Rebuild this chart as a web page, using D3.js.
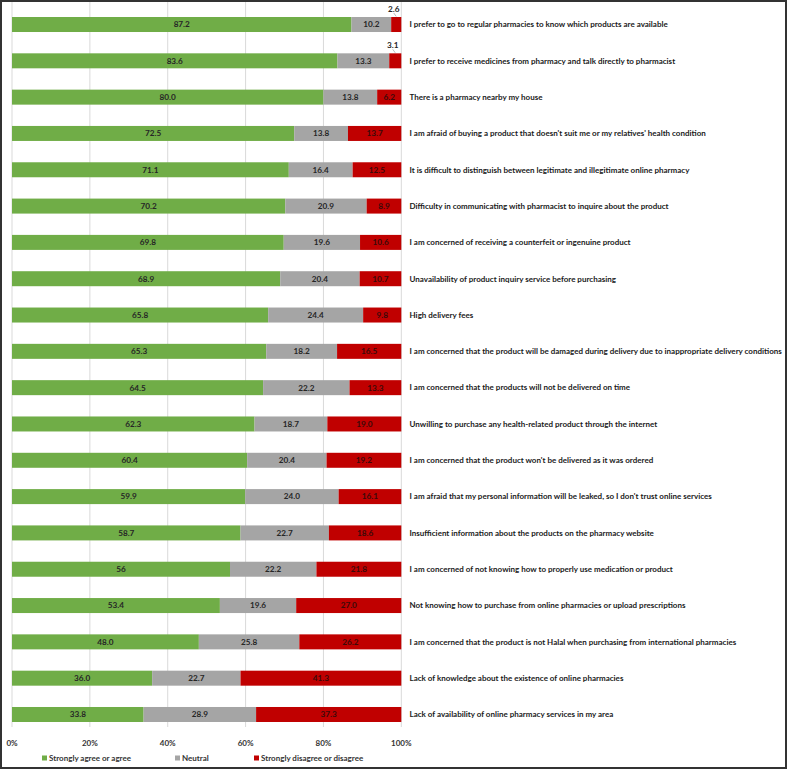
<!DOCTYPE html>
<html>
<head>
<meta charset="utf-8">
<script src="https://cdn.jsdelivr.net/npm/d3@7/dist/d3.min.js"></script>
<style>
  html, body { margin: 0; padding: 0; background: #fff; }
  svg { display: block; }
  text { font-family: Lato, "Open Sans", sans-serif; }
</style>
</head>
<body>
<svg id="chart" width="787" height="769"></svg>
<script>
const categories = [
  "I prefer to go to regular pharmacies to know which products are available",
  "I prefer to receive medicines from pharmacy and talk directly to pharmacist",
  "There is a pharmacy nearby my house",
  "I am afraid of buying a product that doesn't suit me or my relatives' health condition",
  "It is difficult to distinguish between legitimate and illegitimate online pharmacy",
  "Difficulty in communicating with pharmacist to inquire about the product",
  "I am concerned of receiving a counterfeit or ingenuine product",
  "Unavailability of product inquiry service before purchasing",
  "High delivery fees",
  "I am concerned that the product will be damaged during delivery due to inappropriate delivery conditions",
  "I am concerned that the products will not be delivered on time",
  "Unwilling to purchase any health-related product through the internet",
  "I am concerned that the product won't be delivered as it was ordered",
  "I am afraid that my personal information will be leaked, so I don't trust online services",
  "Insufficient information about the products on the pharmacy website",
  "I am concerned of not knowing how to properly use medication or product",
  "Not knowing how to purchase from online pharmacies or upload prescriptions",
  "I am concerned that the product is not Halal when purchasing from international pharmacies",
  "Lack of knowledge about the existence of online pharmacies",
  "Lack of availability of online pharmacy services in my area"
];
const agree    = ["87.2","83.6","80.0","72.5","71.1","70.2","69.8","68.9","65.8","65.3","64.5","62.3","60.4","59.9","58.7","56","53.4","48.0","36.0","33.8"];
const neutral  = ["10.2","13.3","13.8","13.8","16.4","20.9","19.6","20.4","24.4","18.2","22.2","18.7","20.4","24.0","22.7","22.2","19.6","25.8","22.7","28.9"];
const disagree = ["2.6","3.1","6.2","13.7","12.5","8.9","10.6","10.7","9.8","16.5","13.3","19.0","19.2","16.1","18.6","21.8","27.0","26.2","41.3","37.3"];
const seriesNames = ["Strongly agree or agree", "Neutral", "Strongly disagree or disagree"];
const seriesColors = ["#70AD47", "#A5A5A5", "#C00000"];
const xTicks = [0, 20, 40, 60, 80, 100];
const tickLabels = ["0%", "20%", "40%", "60%", "80%", "100%"];

const svg = d3.select("#chart");
const W = 787, H = 769;

// frame
svg.append("rect").attr("x", 1).attr("y", 1).attr("width", W - 2).attr("height", H - 2)
  .attr("fill", "#fff").attr("stroke", "#333").attr("stroke-width", 2);

const x = d3.scaleLinear().domain([0, 100]).range([12, 401.3]);
const y = d3.scaleBand().domain(categories).range([6.35, 732.65])
  .paddingInner(0.587).paddingOuter(0.2935);

// gridlines
svg.append("g").selectAll("line").data(xTicks).join("line")
  .attr("x1", d => x(d)).attr("x2", d => x(d))
  .attr("y1", 2).attr("y2", 727)
  .attr("stroke", "#d9d9d9").attr("stroke-width", 1);

const rows = categories.map((c, i) => ({ c, vals: [agree[i], neutral[i], disagree[i]] }));

const rowG = svg.append("g").selectAll("g").data(rows).join("g");

rowG.each(function (d) {
  const g = d3.select(this);
  let cum = 0;
  d.vals.forEach((vs, k) => {
    const v = +vs;
    const x0 = x(cum), x1 = x(cum + v);
    g.append("rect").attr("x", x0).attr("y", y(d.c)).attr("width", x1 - x0)
      .attr("height", y.bandwidth()).attr("fill", seriesColors[k]);
    const cy = y(d.c) + y.bandwidth() / 2;
    if (k === 2 && v < 5) {
      const lx = (x0 + x1) / 2;
      g.append("line").attr("x1", lx - 2.5).attr("y1", y(d.c) - 4).attr("x2", lx).attr("y2", y(d.c) - 0.5)
        .attr("stroke", "#a0a0a0").attr("stroke-width", 0.7);
      g.append("text").attr("x", lx - 2.5).attr("y", y(d.c) - 5.5)
        .attr("text-anchor", "middle").attr("font-size", 8.2).attr("font-weight", "bold")
        .attr("fill", "#262626").text(vs);
    } else {
      g.append("text").attr("x", (x0 + x1) / 2).attr("y", cy).attr("dy", "0.35em")
        .attr("text-anchor", "middle").attr("font-size", 8.2).attr("font-weight", "bold")
        .attr("fill", k === 2 ? "#3a0a0a" : "#262626").text(vs);
    }
    cum += v;
  });
  g.append("text").attr("x", 409.5).attr("y", y(d.c) + y.bandwidth() / 2).attr("dy", "0.35em")
    .attr("font-size", 8.0).attr("font-weight", "bold").attr("fill", "#1a1a1a").text(d.c);
});

// x tick labels
svg.append("g").selectAll("text").data(xTicks).join("text")
  .attr("x", d => x(d)).attr("y", 743).attr("dy", "0.35em")
  .attr("text-anchor", "middle").attr("font-size", 8).attr("font-weight", "bold")
  .attr("fill", "#333").text((d, i) => tickLabels[i]);

// legend
const legendX = [42, 175, 254];
const lg = svg.append("g").selectAll("g").data(seriesNames).join("g")
  .attr("transform", (d, i) => `translate(${legendX[i]},758)`);
lg.append("rect").attr("x", 0).attr("y", -2.5).attr("width", 5).attr("height", 5)
  .attr("fill", (d, i) => seriesColors[i]);
lg.append("text").attr("x", 7).attr("y", 0).attr("dy", "0.35em")
  .attr("font-size", 8).attr("font-weight", "bold").attr("fill", "#333").text(d => d);
</script>
</body>
</html>
